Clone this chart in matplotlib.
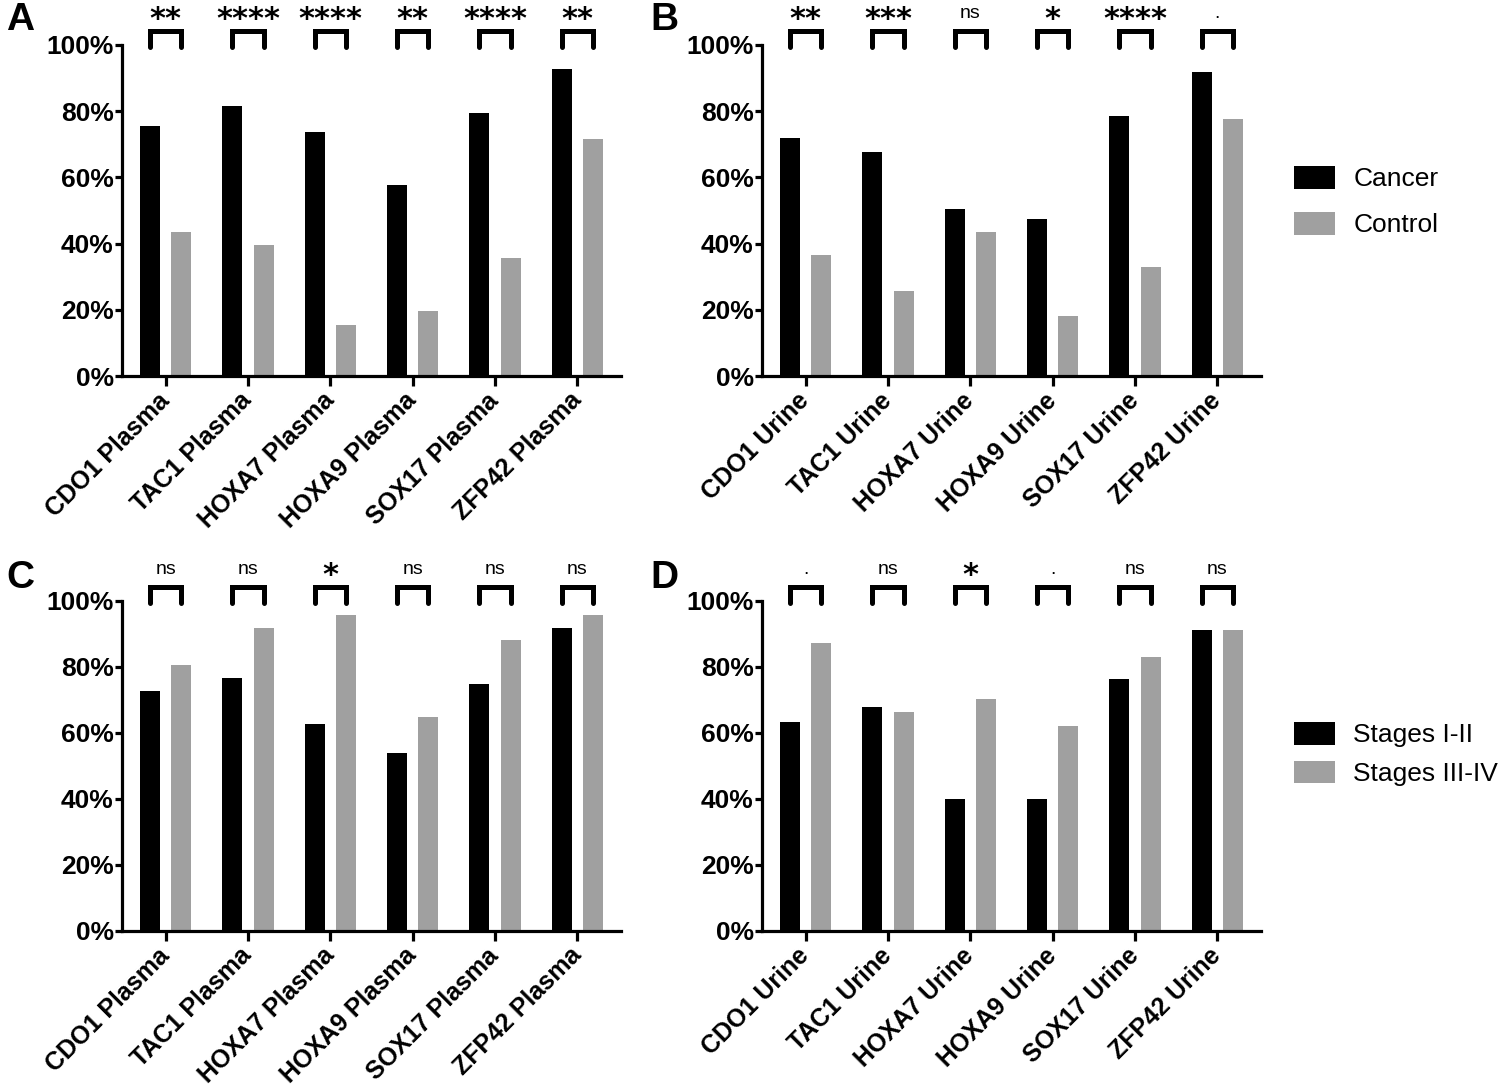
import numpy as np
import matplotlib
matplotlib.use("Agg")
import matplotlib.pyplot as plt

plasma_labels = ["CDO1 Plasma", "TAC1 Plasma", "HOXA7 Plasma", "HOXA9 Plasma", "SOX17 Plasma", "ZFP42 Plasma"]
urine_labels = ["CDO1 Urine", "TAC1 Urine", "HOXA7 Urine", "HOXA9 Urine", "SOX17 Urine", "ZFP42 Urine"]
y_ticks = [0, 20, 40, 60, 80, 100]

# panel A: plasma, cancer vs control
a_cancer = [75.6, 81.7, 73.7, 57.7, 79.5, 92.8]
a_control = [43.5, 39.7, 15.5, 19.6, 35.5, 71.7]
a_sig = ["**", "****", "****", "**", "****", "**"]

# panel B: urine, cancer vs control
b_cancer = [71.8, 67.7, 50.6, 47.5, 78.5, 91.7]
b_control = [36.6, 25.6, 43.5, 18.0, 32.8, 77.7]
b_sig = ["**", "***", "ns", "*", "****", "."]

# panel C: plasma, stages
c_early = [72.7, 76.8, 62.8, 53.9, 74.7, 91.7]
c_late = [80.5, 91.7, 95.8, 65.0, 88.2, 95.8]
c_sig = ["ns", "ns", "*", "ns", "ns", "ns"]

# panel D: urine, stages
d_early = [63.4, 67.8, 40.1, 40.1, 76.3, 91.1]
d_late = [87.2, 66.4, 70.4, 62.2, 82.9, 91.3]
d_sig = [".", "ns", "*", ".", "ns", "ns"]

BLACK = "#000000"
GREY = "#a0a0a0"
W = 1500.0
H = 1089.0

plt.rcParams["font.family"] = ["Liberation Sans", "DejaVu Sans"]


def panel(fig, rect, labels, first, second, sig):
    ax = fig.add_axes(rect)
    x = np.arange(len(labels))
    off = 0.19
    ax.bar(x - off, first, 0.245, color=BLACK, linewidth=0)
    ax.bar(x + off, second, 0.245, color=GREY, linewidth=0)
    ax.set_xlim(-0.53, len(labels) - 0.47)
    ax.set_ylim(0, 100)
    for s in ["top", "right"]:
        ax.spines[s].set_visible(False)
    for s in ["left", "bottom"]:
        ax.spines[s].set_linewidth(2.3)
    ax.set_yticks(y_ticks)
    ax.set_yticklabels([f"{t}%" for t in y_ticks], fontsize=19, fontweight="bold")
    ax.tick_params(axis="y", length=5, width=2.3, pad=1)
    ax.set_xticks(x)
    ax.set_xticklabels(labels, rotation=45, ha="right", va="center",
                       rotation_mode="anchor", fontsize=18, fontweight="bold")
    ax.tick_params(axis="x", length=7, width=2.3, pad=8)

    for i, s in enumerate(sig):
        ax.plot([i - off, i - off, i + off, i + off], [99.4, 104.2, 104.2, 99.4],
                color="black", lw=3.6, clip_on=False,
                solid_capstyle="round", solid_joinstyle="miter")
        if "*" in s:
            ax.text(i, 105.0, s, ha="center", va="baseline", fontsize=22,
                    fontweight="bold", family="DejaVu Sans", clip_on=False)
        else:
            ax.text(i, 108.3, s, ha="center", va="baseline", fontsize=14,
                    clip_on=False)
    return ax


fig = plt.figure(figsize=(15, 10.89), dpi=100)

ax_w = 499 / W
top_h = (376 - 45) / H
bot_h = (931 - 601) / H

ax_a = panel(fig, [122 / W, 1 - 376 / H, ax_w, top_h], plasma_labels, a_cancer, a_control, a_sig)
ax_b = panel(fig, [762 / W, 1 - 376 / H, ax_w, top_h], urine_labels, b_cancer, b_control, b_sig)
ax_c = panel(fig, [122 / W, 1 - 931 / H, ax_w, bot_h], plasma_labels, c_early, c_late, c_sig)
ax_d = panel(fig, [762 / W, 1 - 931 / H, ax_w, bot_h], urine_labels, d_early, d_late, d_sig)

h1 = ax_b.containers[0]
h2 = ax_b.containers[1]
fig.legend([h1, h2], ["Cancer", "Control"], loc="upper left",
           bbox_to_anchor=(1294 / W, 1 - 166 / H), frameon=False, fontsize=19,
           handlelength=1.55, handleheight=0.95, handletextpad=0.7,
           labelspacing=0.78, borderpad=0, borderaxespad=0)
h3 = ax_d.containers[0]
h4 = ax_d.containers[1]
fig.legend([h3, h4], ["Stages I-II", "Stages III-IV"], loc="upper left",
           bbox_to_anchor=(1294 / W, 1 - 722 / H), frameon=False, fontsize=19,
           handlelength=1.55, handleheight=0.95, handletextpad=0.7,
           labelspacing=0.5, borderpad=0, borderaxespad=0)

for letter, px, py in [("A", 6, 20), ("B", 650, 20), ("C", 6, 578), ("D", 650, 578)]:
    fig.text(px / W, 1 - py / H, letter, ha="left", va="center",
             fontsize=28, fontweight="bold")

fig.savefig("out.png", dpi=100)
